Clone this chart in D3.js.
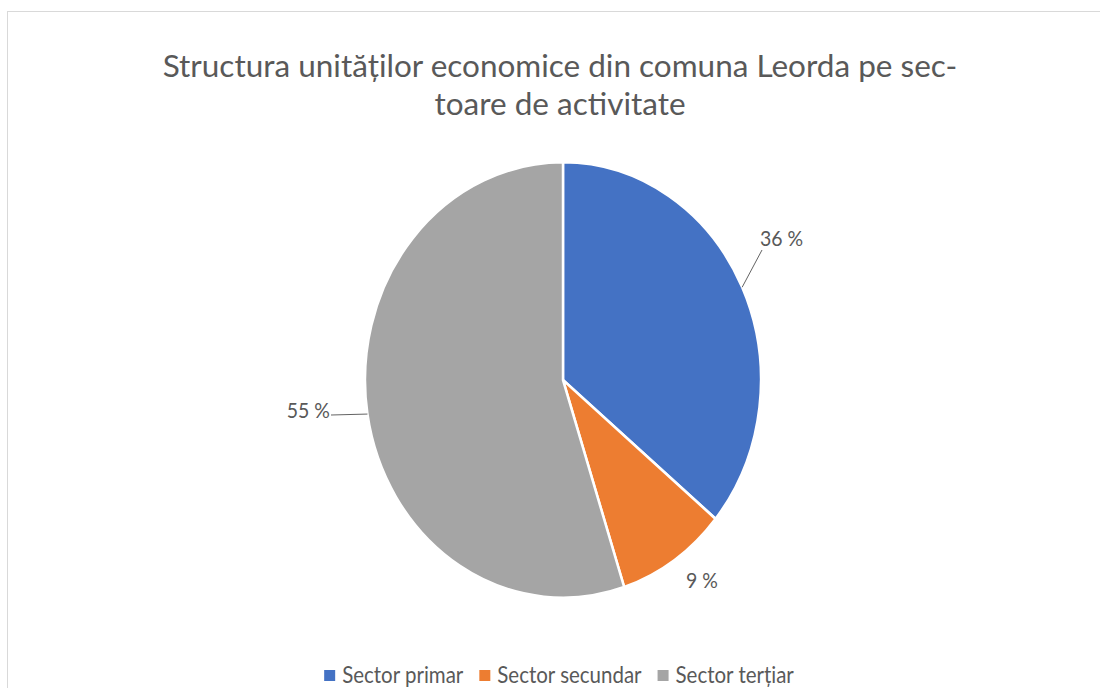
<html>
<script src="https://cdnjs.cloudflare.com/ajax/libs/d3/7.8.5/d3.min.js"></script>
<style>
body {margin:0; background:#fff;}
text {font-family: Lato, "Liberation Sans", sans-serif; fill:#595959;}
</style>
<body>
<svg width=1100 height=688></svg>
<script>
// chart values
var sectors = ["Sector primar", "Sector secundar", "Sector terțiar"];
var shares = [36, 9, 55];
var shareLabels = ["36 %", "9 %", "55 %"];
var colours = ["#4472C4", "#ED7D31", "#A5A5A5"];
var titleLines = ["Structura unităților economice din comuna Leorda pe sec-", "toare de activitate"];

var svg = d3.select("svg");

// frame of the chart area (only top and left edges are visible)
svg.append("rect")
  .attr("x", 7.5).attr("y", 11.5)
  .attr("width", 1200).attr("height", 800)
  .attr("fill", "none").attr("stroke", "#d9d9d9");

// title
svg.selectAll(".title")
  .data(titleLines)
  .enter().append("text")
  .attr("class", "title")
  .attr("x", 560)
  .attr("y", function(d, i) { return 77 + i * 38; })
  .attr("text-anchor", "middle")
  .style("font-size", "31.5px")
  .text(function(d) { return d; });

// the picture is stretched a bit in height, so draw the rest in a scaled group
var sy = 1.1;
var g = svg.append("g").attr("transform", "scale(1," + sy + ")");

var cx = 563, cy = 380 / sy, r = 198;

// pie
var pie = d3.pie().sort(null).value(function(d) { return d; });
var arcs = pie(shares);
var arc = d3.arc().innerRadius(0).outerRadius(r);

var pieG = g.append("g").attr("transform", "translate(" + cx + "," + cy + ")");
pieG.selectAll("path")
  .data(arcs)
  .enter().append("path")
  .attr("d", arc)
  .attr("fill", function(d, i) { return colours[i]; })
  .attr("stroke", "#fff")
  .attr("stroke-width", 2.5)
  .attr("stroke-linejoin", "round");

// data labels
var labelPos = [
  {x: 760, y: 246 / sy, anchor: "start"},
  {x: 686, y: 588 / sy, anchor: "start"},
  {x: 330, y: 418 / sy, anchor: "end"}
];
var edge = d3.arc().innerRadius(r).outerRadius(r);

// leader lines
var lead = [
  {i: 0, to: [762, 250 / sy]},
  {i: 2, to: [331, 415 / sy]}
];
lead.forEach(function(l) {
  var p = edge.centroid(arcs[l.i]);
  g.append("line")
    .attr("x1", cx + p[0]).attr("y1", cy + p[1])
    .attr("x2", l.to[0]).attr("y2", l.to[1])
    .attr("stroke", "#595959").attr("stroke-width", 0.9);
});

g.selectAll(".lbl")
  .data(shareLabels)
  .enter().append("text")
  .attr("class", "lbl")
  .attr("x", function(d, i) { return labelPos[i].x; })
  .attr("y", function(d, i) { return labelPos[i].y; })
  .attr("text-anchor", function(d, i) { return labelPos[i].anchor; })
  .style("font-size", "19.5px")
  .text(function(d) { return d; });

// legend
var legend = g.append("g");
var lx = 0;
sectors.forEach(function(s, i) {
  var item = legend.append("g").attr("transform", "translate(" + lx + ",0)");
  item.append("rect")
    .attr("x", 0).attr("y", 670 / sy)
    .attr("width", 11).attr("height", 11 / sy)
    .attr("fill", colours[i]);
  var t = item.append("text")
    .attr("x", 18).attr("y", 683 / sy)
    .style("font-size", "20.5px")
    .text(s);
  lx += 18 + t.node().getComputedTextLength() + 16;
});
var legendW = lx - 16;
legend.attr("transform", "translate(" + (559 - legendW / 2) + ",0)");
</script>
</body>
</html>
